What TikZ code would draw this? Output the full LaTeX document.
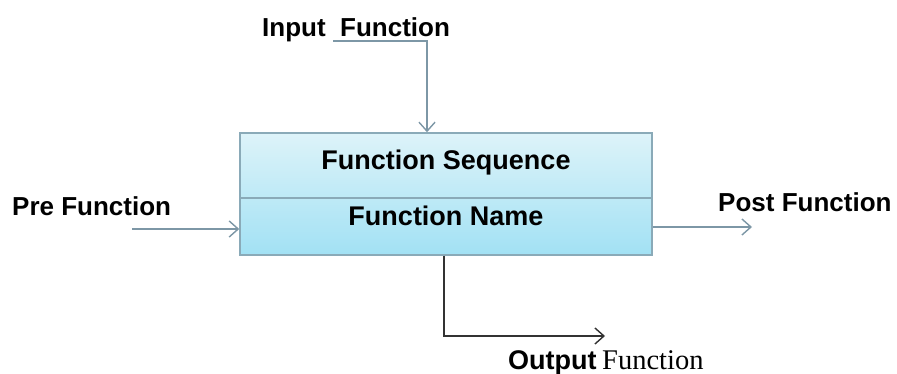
\documentclass[tikz,border=0pt]{standalone}
\usepackage{fontspec}
\setmainfont{Liberation Sans}
\newfontfamily\serifface{Liberation Serif}
\usetikzlibrary{arrows.meta, positioning, calc}

\begin{document}
\begin{tikzpicture}[
		x=1pt, y=1pt,
		funcbox/.style={rectangle, draw=boxline, line width=1.5pt, minimum width=412pt, minimum height=122pt, top color=boxtop, bottom color=boxbottom, inner sep=0pt},
		lbl/.style={font=\fontsize{26}{30}\selectfont\bfseries, inner sep=0pt, anchor=base west},
		flow/.style={draw=flowline, line width=1.4pt, -{Straight Barb[length=9pt, width=16pt, line width=1.4pt]}},
	]
		\definecolor{boxline}{HTML}{8AAAB8}
		\definecolor{boxtop}{HTML}{DDF3F9}
		\definecolor{boxbottom}{HTML}{A2E1F4}
		\definecolor{flowline}{HTML}{7D97A6}
		\useasboundingbox (0,0) rectangle (897,-374);

		%Nodes
		\node (box) [funcbox] at (446,-194) {};
		\node (seqtxt) [lbl, anchor=base, font=\fontsize{27}{30}\selectfont\bfseries] at ($(box.north) + (0,-37)$) {Function Sequence};
		\node (nametxt) [lbl, anchor=base, font=\fontsize{27}{30}\selectfont\bfseries] at ($(box.north) + (0,-93)$) {Function Name};

		\node (inlbl) [lbl] at (262,-37) {Input};
		\node (infn) [lbl] at (340,-37) {Function};
		\node (prelbl) [lbl] at (12,-216) {Pre Function};
		\node (postlbl) [lbl] at (718,-212) {Post Function};
		\node (outlbl) [lbl, font=\fontsize{27}{30}\selectfont\bfseries] at (508,-369) {Output};
		\node (outfn) [lbl, font=\fontsize{28.5}{30}\serifface] at (602,-369) {Function};

		\coordinate (instart) at (333,-41);
		\coordinate (incorner) at (427,-41);
		\coordinate (prestart) at (132,-229);
		\coordinate (postend) at (752,-227);
		\coordinate (outcorner) at (444,-336);
		\coordinate (outend) at (605,-336);

		%Lines
		\draw[boxline, line width=1.5pt] ($(box.west) + (0,-4)$) -- ($(box.east) + (0,-4)$);
		\draw[flow] (instart) -- (incorner) -- (incorner |- box.north);
		\draw[flow] (prestart) -- (prestart -| box.west);
		\draw[flow] (postend -| box.east) -- (postend);
		\draw[flow, draw=black!80] (outcorner |- box.south) -- (outcorner) -- (outend);
	\end{tikzpicture}
\end{document}
